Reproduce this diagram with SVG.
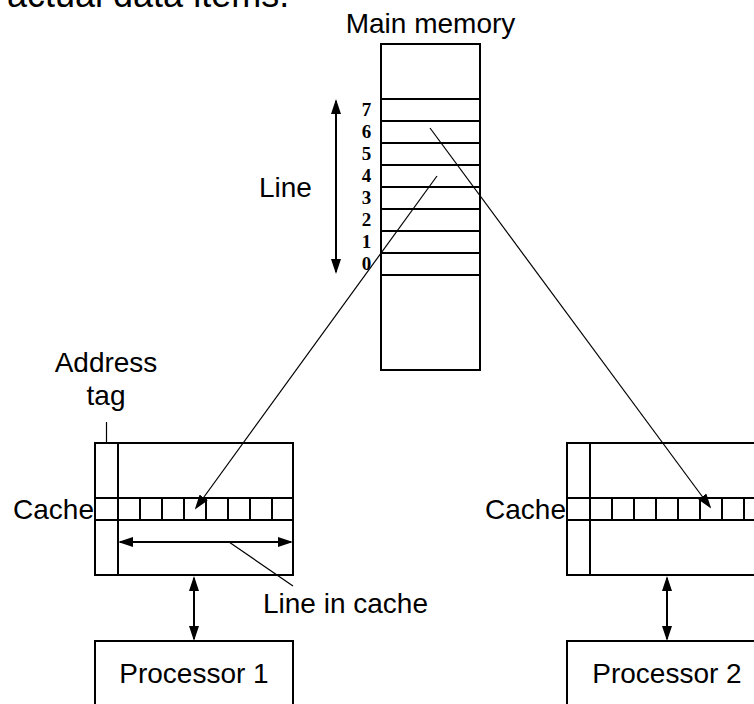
<svg xmlns="http://www.w3.org/2000/svg" width="754" height="704" viewBox="0 0 754 704">
<style>
.box{fill:none;stroke:#000;stroke-width:2}
.ln{stroke:#000;stroke-width:2;fill:none}
.t{font-family:"Liberation Sans",Arial,Helvetica,sans-serif;font-size:28px;fill:#000}
.d{font-family:"Liberation Serif","Times New Roman",serif;font-weight:bold;font-size:19px;fill:#000;text-anchor:middle}
.m{text-anchor:middle}
.e{text-anchor:end}
.thin{stroke:#000;stroke-width:1.2;fill:none}
.dbl{stroke:#000;stroke-width:2;fill:none;marker-start:url(#ah);marker-end:url(#ah)}
.one{stroke:#000;stroke-width:1.2;fill:none;marker-end:url(#ah)}
</style>
<defs>
<marker id="ah" markerUnits="userSpaceOnUse" markerWidth="15" markerHeight="10" refX="13" refY="5" orient="auto-start-reverse">
<path d="M0,0 L15,5 L0,10 Z" fill="#000"/>
</marker>
</defs>
<text class="t" x="7" y="7" style="font-size:36px">actual data items.</text>
<g id="memory">
<text class="t m" x="430.5" y="33">Main memory</text>
<rect class="box" x="381" y="44" width="99" height="326"/>
<path class="ln" d="M381,99H480M381,121H480M381,143H480M381,165H480M381,187H480M381,209H480M381,231H480M381,253H480M381,275H480"/>
<text class="d" x="366.5" y="116">7</text>
<text class="d" x="366.5" y="138">6</text>
<text class="d" x="366.5" y="160">5</text>
<text class="d" x="366.5" y="182">4</text>
<text class="d" x="366.5" y="204">3</text>
<text class="d" x="366.5" y="226">2</text>
<text class="d" x="366.5" y="248">1</text>
<text class="d" x="366.5" y="270">0</text>
<text class="t" x="259" y="197">Line</text>
</g>
<g id="cache1">
<rect class="box" x="95" y="443" width="198" height="132"/>
<path class="ln" d="M118,443V575M95,498H293M95,520H293M140,498V520M162,498V520M184,498V520M206,498V520M228,498V520M250,498V520M272,498V520"/>
<text class="t e" x="94" y="519">Cache</text>
<text class="t m" x="106" y="372">Address</text>
<text class="t m" x="106" y="405">tag</text>
<text class="t" x="263" y="613">Line in cache</text>
</g>
<g id="cache2">
<rect class="box" x="567" y="443" width="198" height="132"/>
<path class="ln" d="M590,443V575M567,498H765M567,520H765M612,498V520M634,498V520M656,498V520M678,498V520M700,498V520M722,498V520M744,498V520"/>
<text class="t e" x="566" y="519">Cache</text>
</g>
<g id="processor1">
<rect class="box" x="95" y="641" width="198" height="80"/>
<text class="t m" x="194" y="683">Processor 1</text>
</g>
<g id="processor2">
<rect class="box" x="567" y="641" width="198" height="80"/>
<text class="t m" x="667" y="683">Processor 2</text>
</g>
<g id="connectors">
<line class="one" x1="437" y1="176" x2="196" y2="508"/>
<line class="one" x1="430" y1="128" x2="710" y2="507"/>
<line class="dbl" x1="194" y1="578" x2="194" y2="639"/>
<line class="dbl" x1="667" y1="578" x2="667" y2="639"/>
<line class="dbl" x1="336" y1="101" x2="336" y2="272"/>
<line class="dbl" x1="120" y1="542" x2="291" y2="542"/>
<line class="thin" x1="229" y1="542" x2="293" y2="586"/>
<line class="thin" x1="106.5" y1="422" x2="106.5" y2="443"/>
</g>
</svg>
